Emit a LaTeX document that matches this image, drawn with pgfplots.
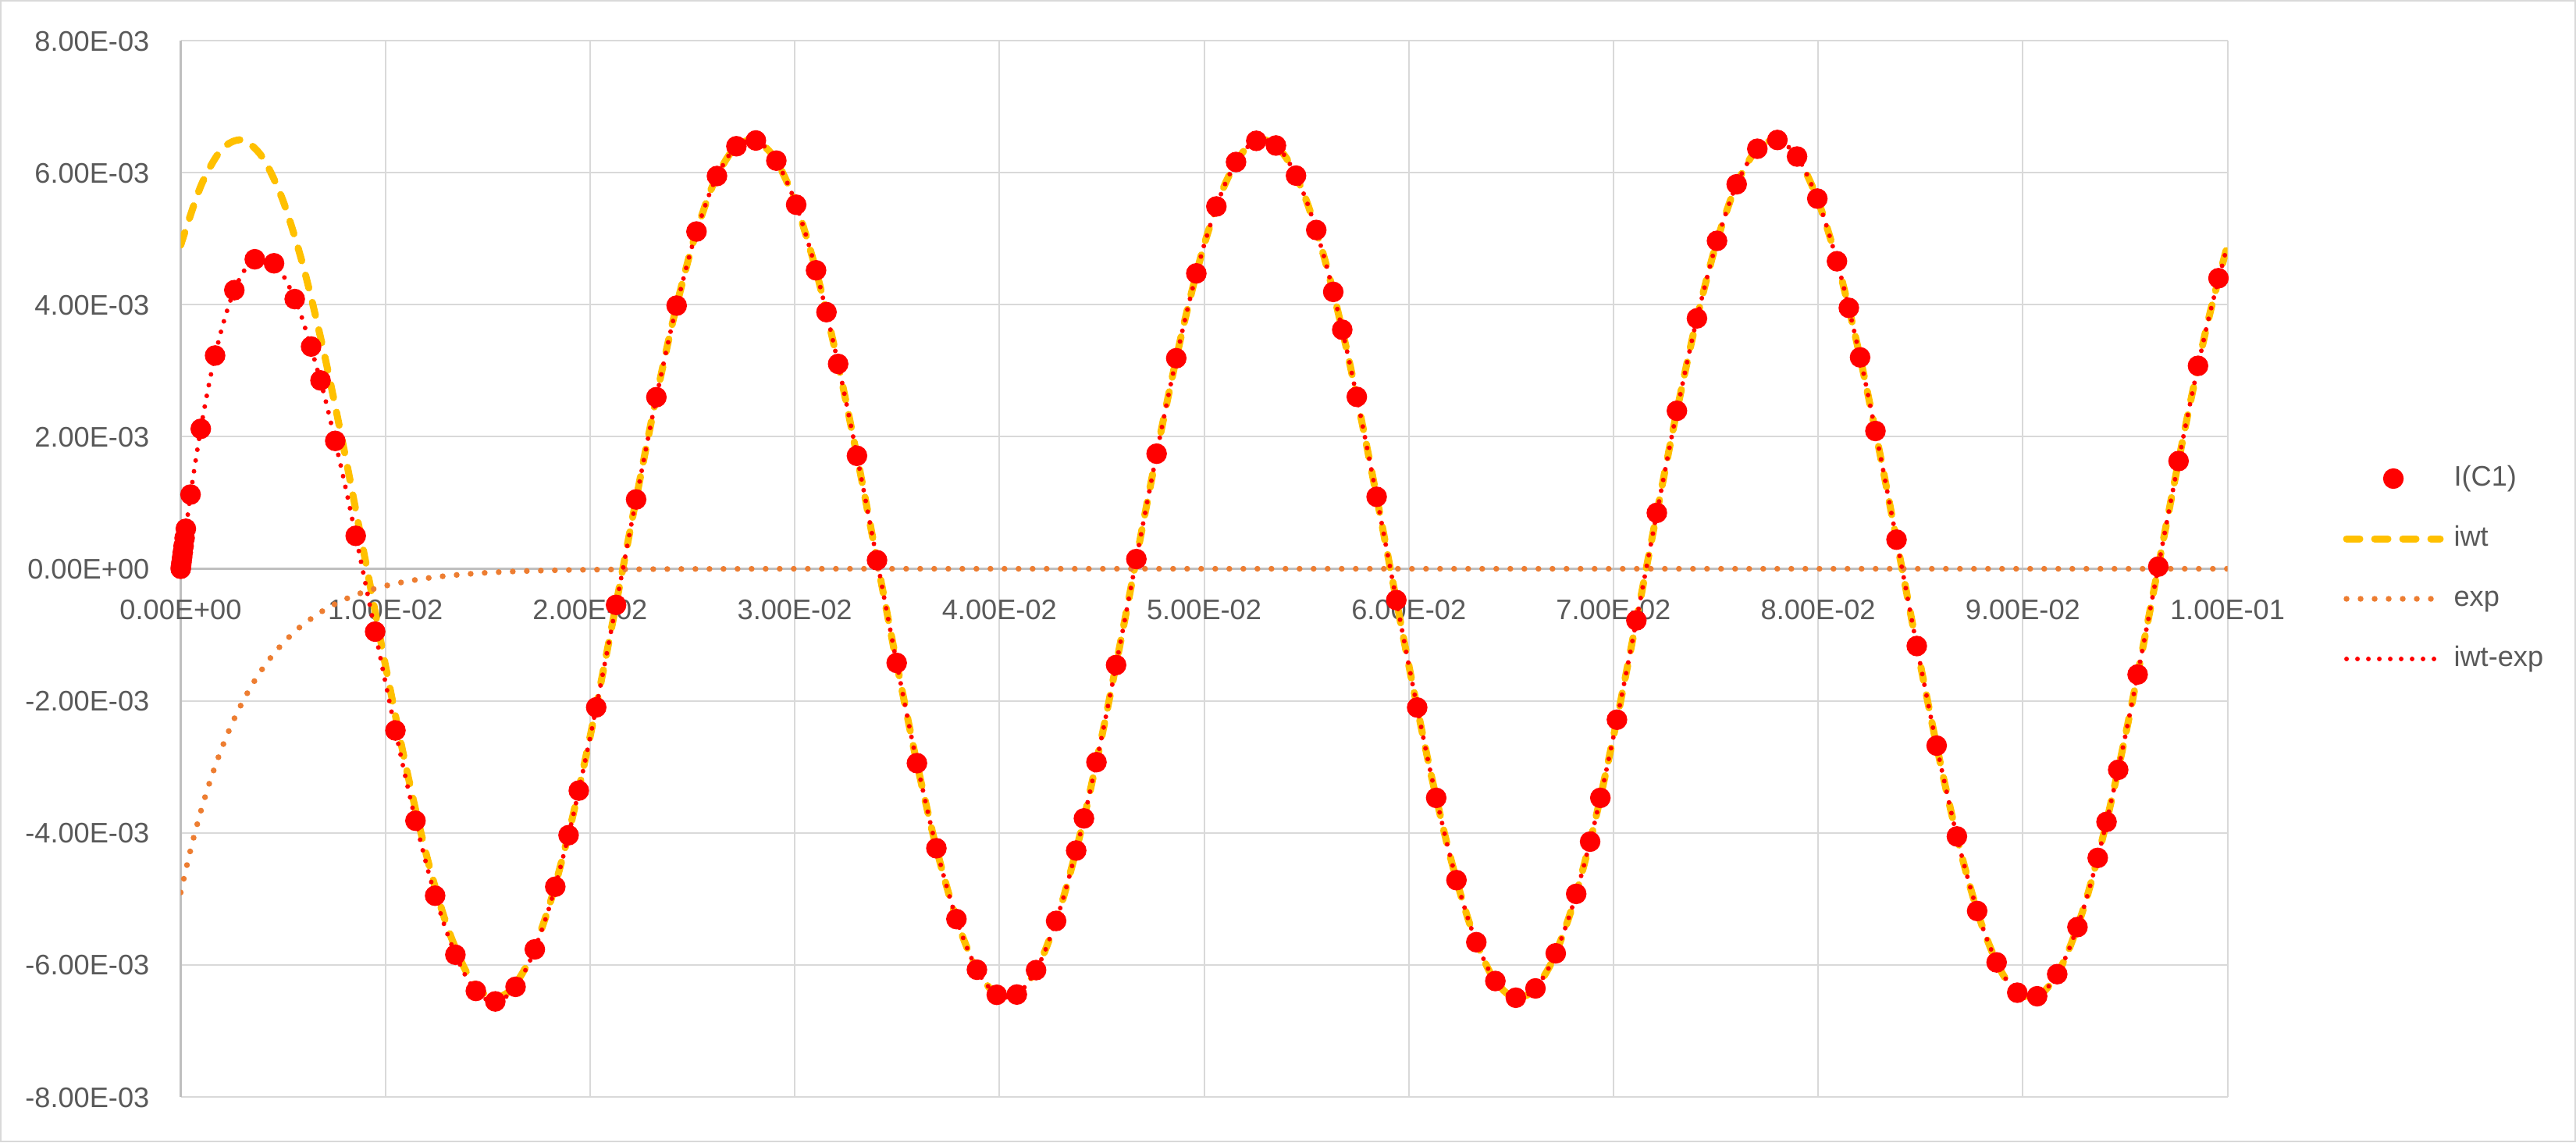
\documentclass[border=0pt]{standalone}
\usepackage{fontspec}
\setmainfont{Liberation Sans}
\usepackage{pgfplots}
\pgfplotsset{compat=1.18}
\definecolor{gridc}{HTML}{D9D9D9}
\definecolor{axc}{HTML}{BFBFBF}
\definecolor{txt}{HTML}{595959}
\definecolor{iwtc}{HTML}{FFC000}
\definecolor{expc}{HTML}{ED7D31}
\definecolor{dotc}{HTML}{FF0000}
\begin{document}
\begin{tikzpicture}
\useasboundingbox (0,0) rectangle (33cm,14.63cm);
\draw[gridc, line width=0.02cm] (0.01cm,0.01cm) rectangle (32.99cm,14.62cm);
\begin{axis}[
  at={(2.315cm,0.58cm)}, anchor=south west,
  scale only axis, width=26.22cm, height=13.53cm,
  xmin=0, xmax=100, ymin=-8, ymax=8,
  axis x line=middle, axis y line=left,
  x axis line style={-, draw=axc, line width=0.025cm},
  y axis line style={-, draw=axc, line width=0.025cm},
  hide obscured x ticks=false, hide obscured y ticks=false,
  xtick={0,10,20,30,40,50,60,70,80,90,100},
  ytick={-8,-6,-4,-2,0,2,4,6,8},
  xticklabels={0.00E+00,1.00E-02,2.00E-02,3.00E-02,4.00E-02,5.00E-02,6.00E-02,7.00E-02,8.00E-02,9.00E-02,1.00E-01},
  yticklabels={-8.00E-03,-6.00E-03,-4.00E-03,-2.00E-03,0.00E+00,2.00E-03,4.00E-03,6.00E-03,8.00E-03},
  grid=major, major grid style={draw=gridc, line width=0.02cm},
  major tick length=0pt, tick style={draw=none},
  every tick label/.append style={font=\fontsize{10.3}{12}\selectfont, text=txt},
  xticklabel style={anchor=north, inner sep=0pt, yshift=-0.38cm, text height=0.26cm, text depth=0pt},
  yticklabel style={anchor=east, inner sep=0pt, xshift=-0.395cm, text height=0.26cm, text depth=0pt},
  legend style={at={(rel axis cs:1,0.5)}, anchor=west, xshift=1.48cm, draw=none, fill=none,
    inner sep=0pt, outer sep=0pt, font=\fontsize{10.3}{12}\selectfont, text=txt,
    row sep=0.44cm, column sep=0cm,
    nodes={inner sep=0pt, text height=0.26cm, text depth=0.07cm}},
  legend cell align=left,
  legend image code/.code={\draw[mark repeat=2,mark phase=2,#1] plot coordinates {(0cm,0cm) (0.6cm,0cm) (1.2cm,0cm)}; \path (1.33cm,0cm);},
]
\addplot[only marks, mark=*, mark size=0.125cm, color=dotc, mark options={draw=dotc, fill=dotc}] coordinates {
(0,0) (0.01,0.025) (0.02,0.050) (0.04,0.100) (0.07,0.174) (0.10,0.248) (0.14,0.345) (0.19,0.465) (0.25,0.606)
(0.48,1.124) (0.98,2.120) (1.68,3.230) (2.62,4.220) (3.62,4.688) (4.56,4.627) (5.57,4.085) (6.37,3.366) (6.83,2.853) (7.55,1.937) (8.55,0.499) (9.50,-0.952) (10.49,-2.449) (11.47,-3.816) (12.43,-4.952) (13.42,-5.846) (14.42,-6.394) (15.37,-6.553) (16.36,-6.332) (17.30,-5.765) (18.30,-4.816) (18.95,-4.035) (19.45,-3.360) (20.30,-2.099) (21.27,-0.547) (22.25,1.050) (23.24,2.599) (24.23,3.986) (25.2,5.108) (26.2,5.949) (27.15,6.400) (28.1,6.487) (29.1,6.182) (30.07,5.514) (31.04,4.521) (31.55,3.887) (32.12,3.103) (33.04,1.711) (34.02,0.130) (34.98,-1.426) (35.97,-2.944) (36.92,-4.233) (37.9,-5.306) (38.9,-6.073) (39.87,-6.453) (40.85,-6.449) (41.79,-6.079) (42.77,-5.334) (43.75,-4.268) (44.13,-3.781) (44.74,-2.929) (45.70,-1.458) (46.69,0.147) (47.68,1.743) (48.64,3.189) (49.62,4.474) (50.60,5.488) (51.56,6.161) (52.55,6.482) (53.51,6.411) (54.49,5.955) (55.48,5.131) (56.31,4.194) (56.75,3.621) (57.46,2.604) (58.43,1.090) (59.39,-0.474) (60.41,-2.101) (61.34,-3.470) (62.33,-4.716) (63.3,-5.656) (64.23,-6.244) (65.23,-6.497) (66.19,-6.356) (67.18,-5.825) (68.18,-4.924) (68.86,-4.133) (69.36,-3.470) (70.17,-2.286) (71.12,-0.782) (72.12,0.847) (73.10,2.393) (74.08,3.793) (75.06,4.967) (76.02,5.824) (77.03,6.362) (78.01,6.495) (78.97,6.244) (79.96,5.607) (80.92,4.658) (81.5,3.952) (82.05,3.202) (82.8,2.087) (83.83,0.441) (84.82,-1.170) (85.79,-2.679) (86.78,-4.054) (87.77,-5.183) (88.72,-5.962) (89.73,-6.421) (90.70,-6.475) (91.68,-6.140) (92.67,-5.427) (93.66,-4.379) (94.09,-3.834) (94.66,-3.045) (95.61,-1.601) (96.62,0.033) (97.61,1.632) (98.56,3.074) (99.56,4.401)
};
\addlegendentry{I(C1)}
\addplot[smooth, color=iwtc, line width=0.09cm, dash pattern=on 0.17cm off 0.19cm, line cap=round] coordinates {
(0,4.903) (1,5.810) (2,6.352) (3,6.495) (4,6.230) (5,5.574) (6,4.567) (7,3.273) (8,1.774) (9,0.163) (10,-1.458) (11,-2.988) (12,-4.329) (13,-5.399) (14,-6.130) (15,-6.475) (16,-6.413) (17,-5.949) (18,-5.111) (19,-3.952) (20,-2.544) (21,-0.977) (22,0.652) (23,2.240) (24,3.687)
(25,4.903) (26,5.810) (27,6.352) (28,6.495) (29,6.230) (30,5.574) (31,4.567) (32,3.273) (33,1.774) (34,0.163) (35,-1.458) (36,-2.988) (37,-4.329) (38,-5.399) (39,-6.130) (40,-6.475) (41,-6.413) (42,-5.949) (43,-5.111) (44,-3.952) (45,-2.544) (46,-0.977) (47,0.652) (48,2.240) (49,3.687)
(50,4.903) (51,5.810) (52,6.352) (53,6.495) (54,6.230) (55,5.574) (56,4.567) (57,3.273) (58,1.774) (59,0.163) (60,-1.458) (61,-2.988) (62,-4.329) (63,-5.399) (64,-6.130) (65,-6.475) (66,-6.413) (67,-5.949) (68,-5.111) (69,-3.952) (70,-2.544) (71,-0.977) (72,0.652) (73,2.240) (74,3.687)
(75,4.903) (76,5.810) (77,6.352) (78,6.495) (79,6.230) (80,5.574) (81,4.567) (82,3.273) (83,1.774) (84,0.163) (85,-1.458) (86,-2.988) (87,-4.329) (88,-5.399) (89,-6.130) (90,-6.475) (91,-6.413) (92,-5.949) (93,-5.111) (94,-3.952) (95,-2.544) (96,-0.977) (97,0.652) (98,2.240) (99,3.687)
(100,4.903)
};
\addlegendentry{iwt}
\addplot[smooth, color=expc, line width=0.075cm, dash pattern=on 0cm off 0.18cm, line cap=round] coordinates {
(0,-4.903) (0.5,-4.232) (1,-3.654) (1.5,-3.154) (2,-2.723) (2.5,-2.350) (3,-2.029) (3.5,-1.751) (4,-1.512) (4.5,-1.305) (5,-1.127) (5.5,-0.973) (6,-0.840) (7,-0.626) (8,-0.466) (9,-0.347) (10,-0.259) (11,-0.193) (12,-0.144) (13,-0.107) (14,-0.080) (15,-0.059) (16,-0.044) (17,-0.033) (18,-0.025) (19,-0.018) (20,-0.014) (22,-0.008) (24,-0.004) (26,-0.002) (28,-0.001) (30,0) (40,0) (50,0) (60,0) (70,0) (80,0) (90,0) (100,0)
};
\addlegendentry{exp}
\addplot[smooth, color=dotc, line width=0.06cm, dash pattern=on 0cm off 0.14cm, line cap=round] coordinates {
(0,0) (0.5,1.167) (1,2.156) (1.5,2.976) (2,3.629) (2.5,4.125) (3,4.466) (3.5,4.662) (4,4.718) (4.5,4.644) (5,4.447) (5.5,4.138) (6,3.727) (7,2.647) (8,1.308) (9,-0.184) (10,-1.717) (11,-3.181) (12,-4.473) (13,-5.506) (14,-6.210) (15,-6.534) (16,-6.457) (17,-5.982) (18,-5.136) (19,-3.970) (20,-2.558) (21,-0.987) (22,0.644) (23,2.234) (24,3.683) (25,4.900) (26,5.808) (27,6.350) (28,6.494) (29,6.229) (30,5.573)
(31,4.567) (32,3.273) (33,1.774) (34,0.163) (35,-1.458) (36,-2.988) (37,-4.329) (38,-5.399) (39,-6.130) (40,-6.475) (41,-6.413) (42,-5.949) (43,-5.111) (44,-3.952) (45,-2.544) (46,-0.977) (47,0.652) (48,2.240) (49,3.687)
(50,4.903) (51,5.810) (52,6.352) (53,6.495) (54,6.230) (55,5.574) (56,4.567) (57,3.273) (58,1.774) (59,0.163) (60,-1.458) (61,-2.988) (62,-4.329) (63,-5.399) (64,-6.130) (65,-6.475) (66,-6.413) (67,-5.949) (68,-5.111) (69,-3.952) (70,-2.544) (71,-0.977) (72,0.652) (73,2.240) (74,3.687)
(75,4.903) (76,5.810) (77,6.352) (78,6.495) (79,6.230) (80,5.574) (81,4.567) (82,3.273) (83,1.774) (84,0.163) (85,-1.458) (86,-2.988) (87,-4.329) (88,-5.399) (89,-6.130) (90,-6.475) (91,-6.413) (92,-5.949) (93,-5.111) (94,-3.952) (95,-2.544) (96,-0.977) (97,0.652) (98,2.240) (99,3.687)
(100,4.903)
};
\addlegendentry{iwt-exp}
\end{axis}
\end{tikzpicture}
\end{document}
